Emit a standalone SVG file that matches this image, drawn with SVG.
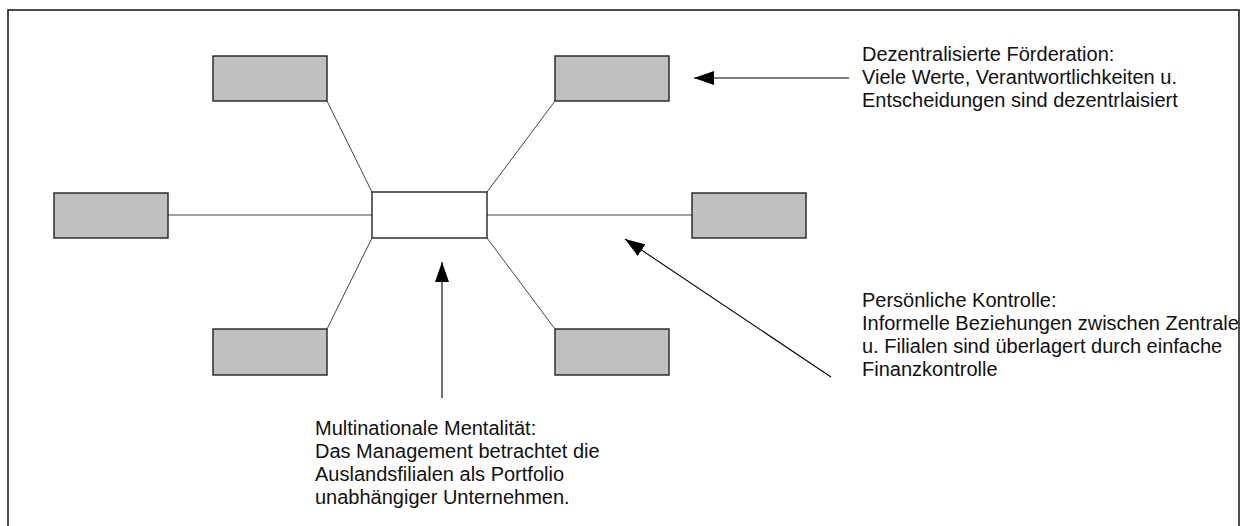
<svg xmlns="http://www.w3.org/2000/svg" width="1249" height="526" viewBox="0 0 1249 526">
  <style>
    .unit { fill: #c0c0c0; stroke: #222; stroke-width: 1.4; }
    .hub { fill: #ffffff; stroke: #222; stroke-width: 1.4; }
    .link { stroke: #444; stroke-width: 1; fill: none; }
    .pointer { stroke: #000; stroke-width: 1.1; fill: none; marker-end: url(#head); }
    .note { font-family: "Liberation Sans", Arial, sans-serif; font-size: 20px; fill: #111; }
  </style>
  <defs>
    <marker id="head" markerUnits="userSpaceOnUse" markerWidth="22" markerHeight="14" refX="20" refY="7" orient="auto">
      <path d="M0,0 L20,7 L0,14 Z" fill="#000"/>
    </marker>
  </defs>

  <rect width="1249" height="526" fill="#ffffff"/>
  <!-- outer frame, open at the bottom -->
  <path d="M8,526 V10 H1239 V526" fill="none" stroke="#111" stroke-width="1.5"/>

  <!-- links from the headquarters to the subsidiaries -->
  <g id="connectors">
    <line class="link" x1="327" y1="101" x2="372" y2="192"/>
    <line class="link" x1="555" y1="101" x2="487" y2="192"/>
    <line class="link" x1="168" y1="215" x2="372" y2="215"/>
    <line class="link" x1="487" y1="215" x2="692" y2="215"/>
    <line class="link" x1="372" y1="238" x2="327" y2="329"/>
    <line class="link" x1="487" y1="238" x2="555" y2="329"/>
    <!-- annotation pointers -->
    <line class="pointer" x1="849" y1="78" x2="694" y2="78"/>
    <line class="pointer" x1="831" y1="377" x2="625" y2="239"/>
    <line class="pointer" x1="442" y1="398" x2="442" y2="262"/>
  </g>

  <g id="hq"><rect class="hub" x="372" y="192" width="115" height="46"/></g>
  <g id="sub-top-left"><rect class="unit" x="213" y="56" width="114" height="45"/></g>
  <g id="sub-top-right"><rect class="unit" x="555" y="56" width="114" height="45"/></g>
  <g id="sub-left"><rect class="unit" x="54" y="193" width="114" height="45"/></g>
  <g id="sub-right"><rect class="unit" x="692" y="193" width="114" height="45"/></g>
  <g id="sub-bottom-left"><rect class="unit" x="213" y="329" width="114" height="46"/></g>
  <g id="sub-bottom-right"><rect class="unit" x="555" y="329" width="114" height="46"/></g>

  <g id="note-federation">
    <text class="note" x="862" y="61">Dezentralisierte Förderation:</text>
    <text class="note" x="862" y="84">Viele Werte, Verantwortlichkeiten u.</text>
    <text class="note" x="862" y="107">Entscheidungen sind dezentrlaisiert</text>
  </g>

  <g id="note-control">
    <text class="note" x="862" y="307">Persönliche Kontrolle:</text>
    <text class="note" x="862" y="330">Informelle Beziehungen zwischen Zentrale</text>
    <text class="note" x="862" y="353">u. Filialen sind überlagert durch einfache</text>
    <text class="note" x="862" y="376">Finanzkontrolle</text>
  </g>

  <g id="note-mentality">
    <text class="note" x="315" y="435">Multinationale Mentalität:</text>
    <text class="note" x="315" y="458">Das Management betrachtet die</text>
    <text class="note" x="315" y="481">Auslandsfilialen als Portfolio</text>
    <text class="note" x="315" y="504">unabhängiger Unternehmen.</text>
  </g>
</svg>
